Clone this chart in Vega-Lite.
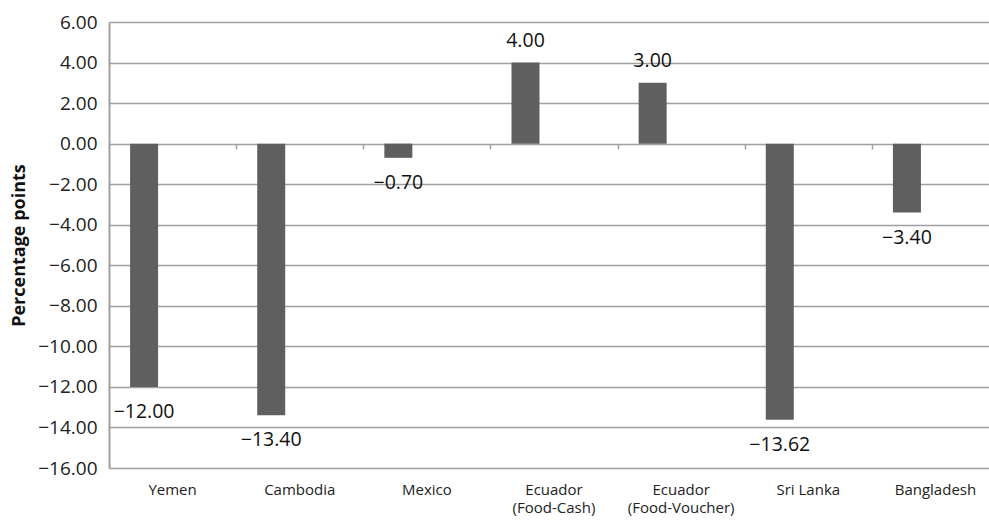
{
  "$schema": "https://vega.github.io/schema/vega-lite/v6.json",
  "autosize": {"type": "none"},
  "padding": {"left": 109, "top": 22, "right": -10, "bottom": 52},
  "width": 890,
  "height": 446,
  "background": "white",
  "config": {
    "view": {"stroke": null},
    "font": "Open Sans",
    "axis": {"labelFont": "Open Sans", "titleFont": "Open Sans"}
  },
  "data": {
    "values": [
      {"country": "Yemen", "value": -12.0},
      {"country": "Cambodia", "value": -13.4},
      {"country": "Mexico", "value": -0.7},
      {"country": "Ecuador\n(Food-Cash)", "value": 4.0},
      {"country": "Ecuador\n(Food-Voucher)", "value": 3.0},
      {"country": "Sri Lanka", "value": -13.62},
      {"country": "Bangladesh", "value": -3.4}
    ]
  },
  "layer": [
    {
      "mark": {"type": "bar", "color": "#5f5f5f", "width": 28, "xOffset": -28.5},
      "encoding": {
        "x": {
          "field": "country", "type": "nominal", "sort": null,
          "scale": {"paddingInner": 0, "paddingOuter": 0},
          "axis": {
            "orient": "bottom", "title": null, "labelAngle": 0, "domain": false, "ticks": false, "grid": false,
            "labelFontSize": 15, "labelColor": "#222", "labelPadding": 14,
            "labelExpr": "split(datum.label, '\\n')", "labelLineHeight": 18, "labelBaseline": "top"
          }
        },
        "y": {
          "field": "value", "type": "quantitative",
          "scale": {"domain": [-16, 6], "nice": false, "zero": false},
          "axis": {
            "values": [-16, -14, -12, -10, -8, -6, -4, -2, 0, 2, 4, 6],
            "labelExpr": "(datum.value < 0 ? '\u2212' : '') + format(abs(datum.value), '.2f')",
            "title": "Percentage points",
            "titleFontSize": 18, "titleFontWeight": "bold", "titleColor": "#111",
            "titleAngle": -90, "titleX": -90, "titleY": 223, "titleAlign": "center", "titleBaseline": "middle",
            "labelFontSize": 19, "labelColor": "#222", "labelPadding": 12,
            "ticks": false, "domainColor": "#a0a0a0", "domainWidth": 2,
            "gridColor": "#a0a0a0", "gridWidth": 1.6, "gridOpacity": 1
          }
        }
      }
    },
    {
      "transform": [{"filter": "datum.value >= 0"}],
      "mark": {"type": "text", "fontSize": 19.5, "color": "#111", "xOffset": -28.5, "dy": -22, "baseline": "middle", "align": "center"},
      "encoding": {
        "x": {
          "field": "country", "type": "nominal", "sort": null,
          "axis": {
            "orient": "bottom", "offset": -324, "title": null, "labels": false, "domain": false, "grid": false,
            "ticks": true, "tickBand": "extent", "tickSize": 5, "tickColor": "#a0a0a0", "tickWidth": 1.5
          }
        },
        "y": {"field": "value", "type": "quantitative"},
        "text": {"field": "value", "type": "quantitative", "format": ".2f"}
      }
    },
    {
      "transform": [{"filter": "datum.value < 0"}],
      "mark": {"type": "text", "fontSize": 19.5, "color": "#111", "xOffset": -28.5, "dy": 25, "baseline": "middle", "align": "center"},
      "encoding": {
        "x": {"field": "country", "type": "nominal", "sort": null, "axis": null},
        "y": {"field": "value", "type": "quantitative"},
        "text": {"field": "value", "type": "quantitative", "format": ".2f"}
      }
    }
  ],
  "resolve": {"axis": {"x": "independent"}}
}
